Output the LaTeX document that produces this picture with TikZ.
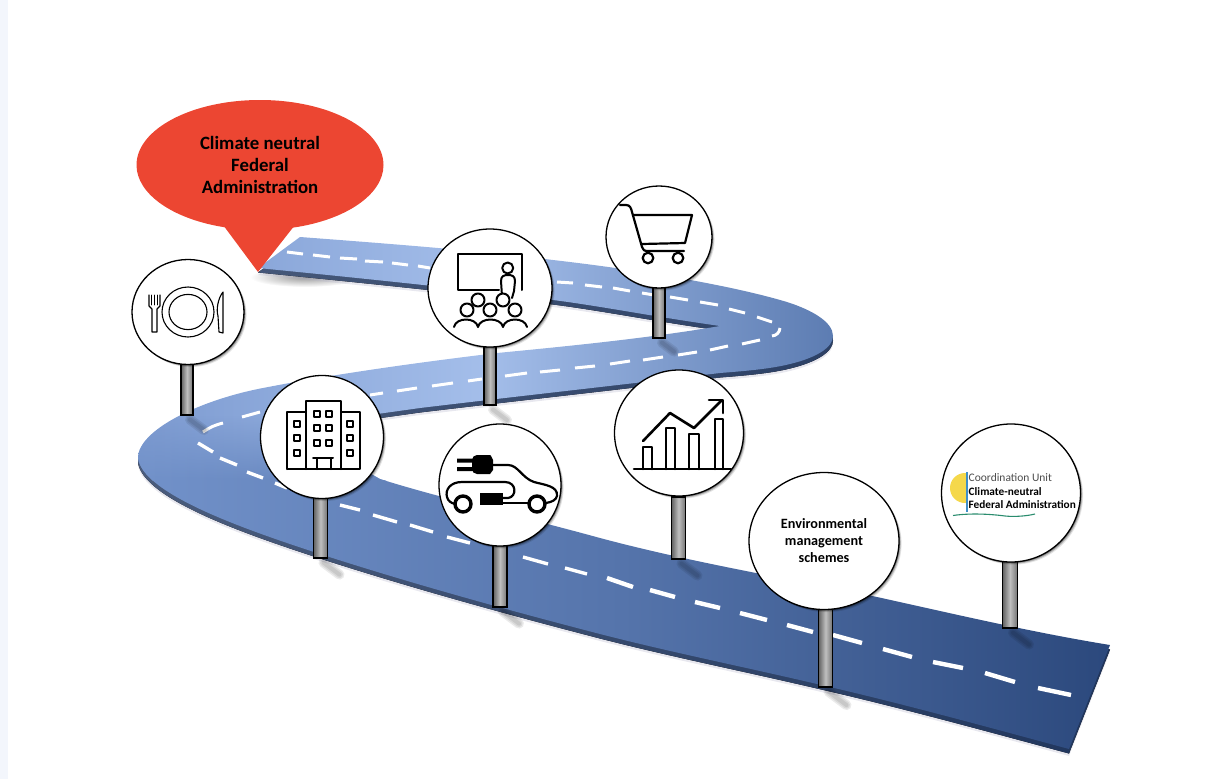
\documentclass[tikz,border=0pt]{standalone}
\usepackage{fontspec}
\setmainfont{Carlito}
\usetikzlibrary{shapes.geometric,shapes.callouts,shadows,fadings}

\definecolor{redcall}{HTML}{EC4632}
\definecolor{roadA}{HTML}{7C9AD0}
\definecolor{roadB}{HTML}{A4BEEA}
\definecolor{roadC}{HTML}{5B7BB1}
\definecolor{roadD}{HTML}{7292CA}
\definecolor{roadE}{HTML}{5574AB}
\definecolor{roadF}{HTML}{2B487C}
\definecolor{paleside}{HTML}{F3F6FC}
\definecolor{sunlogo}{HTML}{F5D84B}
\definecolor{barlogo}{HTML}{3F8FC8}
\definecolor{wavelogo}{HTML}{2A8C6E}

\tikzfading[name=fade bas, top color=transparent!100, bottom color=transparent!0]

\def\roadoutline{(300,237) .. controls (420,246) and (490,252) .. (553,260)
 .. controls (640,270) and (730,285) .. (787,302)
 .. controls (812,310) and (833,322) .. (833,336)
 .. controls (833,348) and (815,358) .. (790,364)
 .. controls (770,369) and (745,371) .. (720,373)
 .. controls (620,385) and (520,396) .. (420,408)
 -- (370,415) -- (320,445) -- (380,479)
 .. controls (440,498) and (520,516) .. (600,538)
 .. controls (690,562) and (780,577) .. (877,597)
 .. controls (950,613) and (1030,632) .. (1110,645)
 -- (1069,749)
 .. controls (980,725) and (900,703) .. (817,684)
 .. controls (740,666) and (670,652) .. (600,634)
 .. controls (500,608) and (410,583) .. (320,554)
 .. controls (250,531) and (143,495) .. (138,458)
 .. controls (138,430) and (200,400) .. (263,388)
 .. controls (340,373) and (430,361) .. (497,353)
 .. controls (570,346) and (650,338) .. (720,326)
 .. controls (650,316) and (600,306) .. (553,300)
 .. controls (500,293) and (380,280) .. (258,268)
 -- cycle}

\tikzset{sign/.style 2 args={ellipse,draw,line width=1.3pt,fill=white,inner sep=0pt,
	minimum width=#1,minimum height=#2,align=center,
	general shadow={shadow xshift=2.6pt,shadow yshift=-2.6pt,fill=black,opacity=.10},
	general shadow={shadow xshift=1.8pt,shadow yshift=-1.8pt,fill=black,opacity=.20},
	general shadow={shadow xshift=1pt,shadow yshift=-1pt,fill=black,opacity=.30}},
pole/.style={rectangle,draw,line width=1.2pt,inner sep=0pt,minimum width=#1,
	left color=black!62,right color=black!55,middle color=black!25},
pole/.default={12pt},
streak/.style={draw=black,line cap=round,opacity=.08},
icon/.style={line width=2pt,line join=round,line cap=round},
dash line/.style={draw=white,line width=#1},
dash line/.default={3pt}}

\begin{document}
\begin{tikzpicture}[x=1pt,y=-1pt]
\useasboundingbox (0,0) rectangle (1215,779);
\fill[paleside] (0,0) rectangle (8,779);

% shadow under the start of the road
\shade[inner color=black!40,outer color=white] (305,277) ellipse [x radius=55,y radius=10];

% road
\fill[blue!30!black!30,opacity=.3] [yshift=-7pt] \roadoutline;
\fill[left color=roadA!60!black,right color=roadF!75!black] [yshift=-4.5pt] \roadoutline;
\begin{scope}
\clip \roadoutline;
\shade[left color=roadA,right color=roadC,middle color=roadB] (130,230) rectangle (840,480);
\shade[left color=roadD,right color=roadF,middle color=roadE,path fading=fade bas] (130,415) rectangle (1115,480);
\shade[left color=roadD,right color=roadF,middle color=roadE] (130,480) rectangle (1115,760);
\end{scope}

% dashes
\foreach \xa/\ya/\xb/\yb in {287/252/303/254,313/255/330/257,340/258/357/259,365/261/383/262,392/263/408/265,418/266/430/268,
	557/282/573/283,585/285/602/287,613/288/630/291,642/293/660/296,670/297/688/300,700/302/718/305,729/309/745/313,757/317/772/322,
	760/340/742/344,728/346/710/350,697/352/678/355,663/357/643/360,630/361/610/364,595/366/575/368,560/370/540/372,527/373/505/376,
	482/379/468/381,453/383/432/386,417/388/397/391,383/393/370/395,260/412/242/417}
	\draw[dash line] (\xa,\ya) -- (\xb,\yb);
\draw[dash line] (780,328) to[bend left=40] (772,336);
\draw[dash line] (223,423) to[bend right=10] (203,432);
\foreach \xa/\ya/\xb/\yb in {198/443/213/452,220/458/237/465,247/472/263/478,275/483/287/488,
	340/505/360/510,373/515/397/522,410/525/433/532,447/537/470/543,523/557/548/564,565/568/587/574}
	\draw[dash line=3.4pt] (\xa,\ya) -- (\xb,\yb);
\foreach \xa/\ya/\xb/\yb in {607/578/633/587,650/590/675/597,695/602/720/608,740/613/767/620,787/625/813/632,833/635/862/643,
	883/649/912/657,933/662/963/668,985/673/1015/682,1038/688/1071/695}
	\draw[dash line=4.4pt] (\xa,\ya) -- (\xb,\yb);

% poles
\node[pole,minimum height=52pt] (polePlate) at (187,389) {};
\node[pole,minimum height=60pt] (poleClass) at (490,375) {};
\node[pole,minimum height=52pt] (poleCart) at (659,312) {};
\node[pole=14pt,minimum height=62pt] (poleBuilding) at (320.5,527) {};
\node[pole=14pt,minimum height=62pt] (poleCar) at (500,576) {};
\node[pole=14pt,minimum height=62pt] (poleChart) at (678.5,528) {};
\node[pole=14pt,minimum height=80pt] (poleScheme) at (825.5,647) {};
\node[pole=15pt,minimum height=70pt] (poleLogo) at (1010,593) {};

% their shadows on the ground
\foreach \n/\l in {polePlate/14,poleClass/14,poleCart/12,poleBuilding/16,poleCar/16,poleChart/16,poleScheme/18,poleLogo/16}
	\foreach \w in {10,7,4}
		\draw[streak,line width=\w pt] (\n.south) ++(3,4) -- ++(\l,\l*.75);

% the callout
\node[ellipse callout,fill=redcall,minimum width=247pt,minimum height=130pt,inner sep=0pt,
	callout absolute pointer={(258,272)},callout pointer arc=32,align=center,
	font=\fontsize{18.8}{22}\selectfont\bfseries] (call) at (260,165)
	{Climate neutral\\Federal\\Administration};

% signs
\node[sign={112pt}{105pt}] (plate) at (188,312) {};
\node[sign={124pt}{118pt}] (class) at (490,288) {};
\node[sign={106pt}{102pt}] (cart) at (659,237) {};
\node[sign={123pt}{123pt}] (building) at (322,437) {};
\node[sign={122pt}{122pt}] (car) at (500,485) {};
\node[sign={129pt}{126pt}] (chart) at (679,433) {};
\node[sign={150pt}{137pt},font=\fontsize{14.2}{17}\selectfont\bfseries] (scheme) at (824,541)
	{Environmental\\management\\schemes};
\node[sign={139pt}{138pt}] (logo) at (1011,493) {};

% plate
\draw[icon,line width=1.1pt] (188,312) ellipse [x radius=26,y radius=25];
\draw[icon,line width=1.1pt] (188,312) ellipse [x radius=19,y radius=17.6];
\draw[icon,line width=1.1pt] (149,295) -- (149,306) -- (152,309) -- (152,332) -- (157,332) -- (157,309) -- (160,306) -- (160,295);
\foreach \x in {151.5,154.5,157.5} \draw[icon,line width=.9pt] (\x,295) -- (\x,305);
\draw[icon,line width=1.1pt] (223,292) .. controls (218,298) and (216,310) .. (218,316) -- (219,332) -- (223,333) -- cycle;

% classroom
\draw[icon] (499,290) -- (458,290) -- (458,254) -- (522,254) -- (522,290);
\draw[icon] (507.7,268) circle (5.5);
\draw[icon] (502,296) -- (501,281) .. controls (501,276) and (504,275) .. (508,275) .. controls (512,275) and (515,276) .. (515,281) -- (514,291) -- (512,298);
\foreach \x/\y in {467/310,478/300,490/310,503/300,515/310} \draw[icon,fill=white] (\x,\y) circle (6.5);
\draw[icon] (454,327) .. controls (456,317) and (476,317) .. (478,327) .. controls (480,317) and (501,317) .. (503,327) .. controls (505,317) and (525,317) .. (527,327);

% cart
\draw[icon,line width=2.2pt] (620,205) -- (626,205) .. controls (630,205) and (631,208) .. (632,212) -- (642,247) .. controls (643,250) and (644,251) .. (648,251) -- (684,251);
\draw[icon,line width=2.2pt] (633,215) -- (692,215) -- (685,243) -- (642,244);
\draw[icon,line width=2.2pt] (648,258) circle (5.3);
\draw[icon,line width=2.2pt] (678,258) circle (5.3);

% building
\draw[icon] (287,469) -- (287,412) -- (306,412) (306,469) -- (306,401) -- (341,401) -- (341,469) (341,412) -- (360,412) -- (360,469) -- (287,469);
\foreach \x in {317,329} \foreach \y in {414,428,443} \draw[icon,line width=1.7pt] (\x-3,\y-3) rectangle (\x+3,\y+3);
\foreach \x in {297,350} \foreach \y in {424,438,453} \draw[icon,line width=1.7pt] (\x-3,\y-3) rectangle (\x+3,\y+3);
\draw[icon] (317,469) -- (317,458) (331,469) -- (331,458) (313,458) -- (333,458);

% electric car
\fill[rounded corners=5pt] (472,455) -- (485,455) .. controls (491,455) and (493,460) .. (493,465) .. controls (493,470) and (490,474) .. (485,474) -- (472,474) -- cycle;
\fill (457,458.5) rectangle (473,462.5) (457,467) rectangle (473,471);
\draw[icon,line width=2.2pt] (492,465) -- (508,465) .. controls (518,465) and (522,478) .. (534,482) .. controls (545,485) and (558,486) .. (557,496) .. controls (556,500) and (552,502) .. (546,503);
\draw[icon,line width=2.2pt] (503,498) -- (508,498) .. controls (517,497) and (517,482) .. (505,482) -- (462,482) .. controls (450,482) and (445,490) .. (447,497) .. controls (448,501) and (451,503) .. (455,504);
\draw[icon,line width=2.2pt] (503,503) -- (530,503);
\fill (480,493) rectangle (503,505);
\draw[icon,line width=3.4pt,fill=white] (463,504) circle (8);
\draw[icon,line width=3.4pt,fill=white] (537,504) circle (8);

% chart
\draw[icon,line width=2.6pt] (634,469) -- (731,469);
\foreach \xa/\xb/\y in {643/652/447,666/675/428,689/699/434,715/723/419}
	\draw[icon,line width=2.6pt] (\xa,469) -- (\xa,\y) -- (\xb,\y) -- (\xb,469);
\draw[icon,line width=2.6pt] (643,441) -- (670,413) -- (694,428) -- (722,400);
\draw[icon,line width=2.6pt] (709,400) -- (723,400) -- (723,413);

% logo
\begin{scope}
\clip (945,470) rectangle (966,510);
\fill[sunlogo] (965,488) circle (15);
\end{scope}
\draw[line width=1.2pt,draw=barlogo] (967,472) -- (967,512);
\draw[line width=1.1pt,draw=wavelogo] (953,515.5) .. controls (970,513) and (990,514) .. (1005,516) .. controls (1015,517) and (1027,516) .. (1035,514);
\node[anchor=west,inner sep=0pt,font=\fontsize{11.5}{12}\selectfont,text=black!70] (logoA) at (968.5,478) {Coordination Unit};
\node[anchor=west,inner sep=0pt,font=\fontsize{11.3}{12}\selectfont\bfseries] (logoB) at (968.5,492) {Climate-neutral};
\node[anchor=west,inner sep=0pt,font=\fontsize{11.3}{12}\selectfont\bfseries] (logoC) at (968.5,505) {Federal Administration};
\end{tikzpicture}
\end{document}
